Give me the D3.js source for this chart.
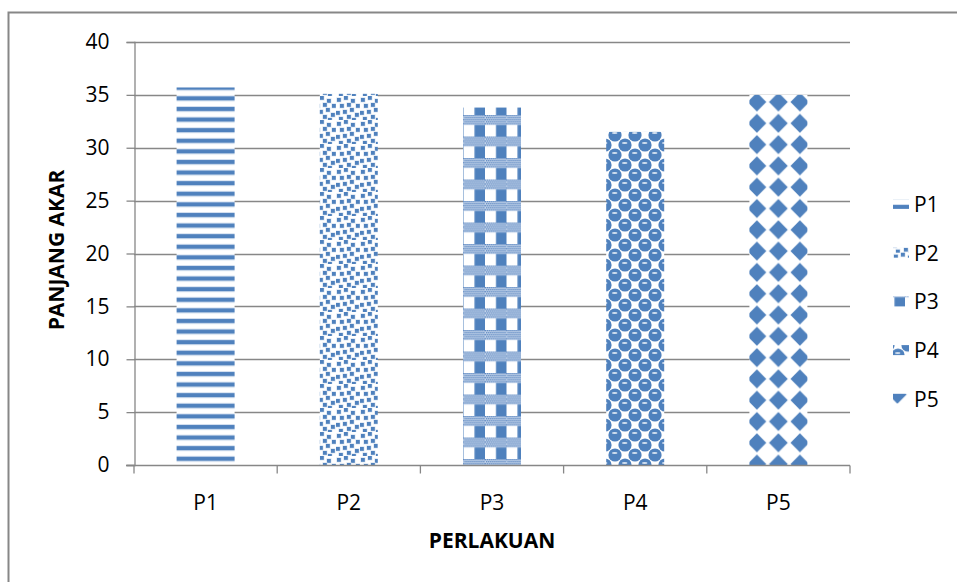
<!DOCTYPE html>
<html>
<head>
<meta charset="utf-8">
<script src="https://cdn.jsdelivr.net/npm/d3@7"></script>
<style>
  html, body { margin: 0; padding: 0; background: #fff; }
  svg { display: block; font-family: "Open Sans", "Noto Sans", sans-serif; }
</style>
</head>
<body>
<svg id="chart" width="957" height="582"></svg>
<script>
// Mean root length per treatment
const categories = ["P1", "P2", "P3", "P4", "P5"];
const values = [35.7, 35.1, 33.8, 31.5, 35.0];
const yTicks = [0, 5, 10, 15, 20, 25, 30, 35, 40];
const xTitle = "PERLAKUAN";
const yTitle = "PANJANG AKAR";

const blue = "#4F81BD", light = "#a9c0e0", pale = "#d5e1f0";
const svg = d3.select("#chart");
const defs = svg.append("defs");
const FONT = 21;

const plot = { left: 134, right: 850, top: 42, bottom: 465 };
const x = d3.scaleBand().domain(categories).range([plot.left, plot.right]).paddingInner(0.595).paddingOuter(0.2975);
const band = d3.scaleBand().domain(categories).range([plot.left, plot.right]);
const y = d3.scaleLinear().domain([0, 40]).range([plot.bottom, plot.top]);

// Fill patterns, one per treatment
function pat(id, w, h, ox = 0, oy = 0) {
  return defs.append("pattern").attr("id", id).attr("patternUnits", "userSpaceOnUse")
    .attr("x", ox).attr("y", oy).attr("width", w).attr("height", h);
}
// P1: horizontal stripes
{
  const p = pat("pat-P1", 10, 10.6);
  p.append("rect").attr("width", 10).attr("height", 10.6).attr("fill", "#fff");
  p.append("rect").attr("y", 0).attr("width", 10).attr("height", 6).attr("fill", pale);
  p.append("rect").attr("y", 1).attr("width", 10).attr("height", 4).attr("fill", blue);
}
// P2: confetti squares
{
  const p = pat("pat-P2", 24, 24);
  p.append("rect").attr("width", 24).attr("height", 24).attr("fill", "#fff");
  const pts = [[1,2],[8,0],[15,3],[20,8],[4,8],[11,7],[0,15],[7,14],[14,12],[19,17],[3,21],[11,19],[16,22]];
  pts.forEach(([px, py]) => {
    p.append("rect").attr("x", px - 0.6).attr("y", py - 0.6).attr("width", 5).attr("height", 5).attr("fill", pale);
    p.append("rect").attr("x", px).attr("y", py).attr("width", 3.8).attr("height", 3.8).attr("fill", blue);
  });
}
// P3: vertical bars crossed by checkered bands
{
  const p = pat("pat-P3", 21.5, 21.5, -9.5, 7.5);
  p.append("rect").attr("width", 21.5).attr("height", 21.5).attr("fill", "#fff");
  p.append("rect").attr("x", 11).attr("width", 10.5).attr("height", 21.5).attr("fill", blue);
  p.append("rect").attr("y", 0).attr("width", 21.5).attr("height", 10).attr("fill", "#c3d4ea");
  for (let yy = 0; yy < 10; yy += 2) {
    for (let xx = (yy / 2) % 2 ? 1 : 0; xx < 21.5; xx += 2) {
      p.append("rect").attr("x", xx).attr("y", yy).attr("width", 1.3).attr("height", 1.3).attr("fill", "#5f89c2");
    }
  }
}
// P4: shaded spheres on a diagonal grid
{
  const p = pat("pat-P4", 20, 20);
  p.append("rect").attr("width", 20).attr("height", 20).attr("fill", "#fff");
  [[5, 5], [15, 15], [-5, 15], [15, -5], [25, 5], [5, 25]].forEach(([cx, cy]) => {
    p.append("circle").attr("cx", cx).attr("cy", cy).attr("r", 6.6).attr("fill", blue);
    p.append("ellipse").attr("cx", cx - 0.3).attr("cy", cy - 2).attr("rx", 2.8).attr("ry", 1.1).attr("fill", pale);
  });
}
// P5: diamond grid centred on the bar
{
  const cx5 = band("P5") + band.bandwidth() / 2;
  const w = 21.5, h = 21.3;
  const p = pat("pat-P5", w, h, (cx5 % w) - w / 2, (102 % h) - h / 2);
  p.append("rect").attr("width", w).attr("height", h).attr("fill", "#fff");
  const cx = w / 2, cy = h / 2, r = 8.8;
  p.append("path").attr("d", `M${cx},${cy - r}L${cx + r},${cy}L${cx},${cy + r}L${cx - r},${cy}Z`)
    .attr("fill", blue).attr("stroke", blue).attr("stroke-width", 1).attr("stroke-linejoin", "round");
}

// Outer chart border
svg.append("rect").attr("x", 8.5).attr("y", 12.5).attr("width", 1000).attr("height", 1000)
  .attr("fill", "none").attr("stroke", "#878787").attr("stroke-width", 2);

// Horizontal gridlines
svg.append("g").selectAll("line").data(yTicks.slice(1)).join("line")
  .attr("x1", plot.left).attr("x2", plot.right)
  .attr("y1", d => Math.round(y(d)) + 0.5).attr("y2", d => Math.round(y(d)) + 0.5)
  .attr("stroke", "#878787").attr("stroke-width", 1.3);

// Bars
svg.append("g").selectAll("rect").data(categories).join("rect")
  .attr("x", d => x(d)).attr("width", x.bandwidth())
  .attr("y", (d, i) => y(values[i])).attr("height", (d, i) => y(0) - y(values[i]))
  .attr("fill", d => `url(#pat-${d})`);

// Y axis
const yAxis = svg.append("g").attr("transform", `translate(${plot.left + 0.5},0)`)
  .call(d3.axisLeft(y).tickValues(yTicks).tickSize(8).tickPadding(17));
yAxis.select(".domain").attr("stroke", "#878787").attr("stroke-width", 1.3);
yAxis.selectAll(".tick line").attr("stroke", "#878787").attr("stroke-width", 1.3);
yAxis.selectAll(".tick text").attr("font-size", FONT).attr("font-family", "'Open Sans', sans-serif").attr("fill", "#000");

// X axis with ticks on category boundaries
const xAxisG = svg.append("g").attr("transform", `translate(0,${plot.bottom + 0.5})`);
xAxisG.append("line").attr("x1", plot.left - 8).attr("x2", plot.right)
  .attr("stroke", "#878787").attr("stroke-width", 1.3);
const bounds = categories.map(c => band(c)).concat([plot.right]);
xAxisG.selectAll(".bt").data(bounds).join("line").attr("class", "bt")
  .attr("x1", d => d).attr("x2", d => d).attr("y1", 0).attr("y2", 8)
  .attr("stroke", "#878787").attr("stroke-width", 1.3);
xAxisG.selectAll("text").data(categories).join("text")
  .attr("x", d => band(d) + band.bandwidth() / 2).attr("y", 44)
  .attr("text-anchor", "middle").attr("font-size", FONT).attr("fill", "#000").text(d => d);

// Axis titles
svg.append("text").attr("x", 492).attr("y", 548).attr("text-anchor", "middle")
  .attr("font-size", 21).attr("font-weight", "bold").text(xTitle);
svg.append("text").attr("transform", "translate(64,250) rotate(-90)").attr("text-anchor", "middle")
  .attr("font-size", 21).attr("font-weight", "bold").text(yTitle);

// Legend
const leg = svg.append("g").selectAll("g").data(categories).join("g")
  .attr("transform", (d, i) => `translate(893,${204 + i * 48.7})`);
leg.append("rect").attr("x", 0).attr("y", -5).attr("width", 16).attr("height", 10)
  .attr("fill", d => `url(#pat-${d})`);
leg.append("text").attr("x", 21).attr("y", 8).attr("font-size", FONT).attr("fill", "#000").text(d => d);
</script>
</body>
</html>
